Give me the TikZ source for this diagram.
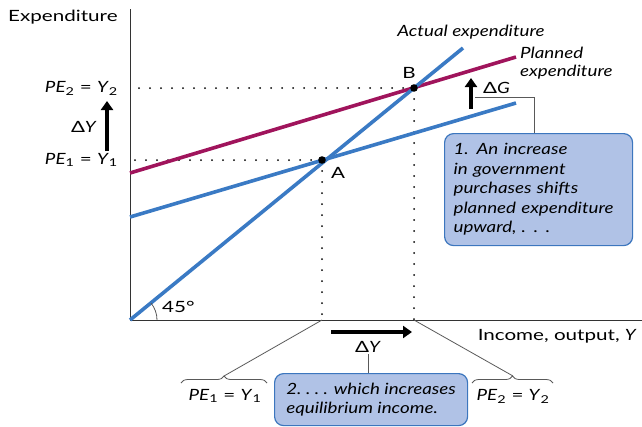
\documentclass[tikz,border=0pt]{standalone}
\usepackage{fontspec}
\setmainfont{Lato}[FakeStretch=1.33, ItalicFeatures={FakeStretch=1.21}]
\usetikzlibrary{positioning,calc,arrows.meta,decorations.pathreplacing}
\definecolor{lineblue}{RGB}{58,122,196}
\definecolor{pemag}{RGB}{160,20,92}
\definecolor{boxfill}{RGB}{176,194,230}
\definecolor{boxedge}{RGB}{60,118,190}
\newcommand{\pelab}[1]{\textit{PE}\textsubscript{#1} = \textit{Y}\textsubscript{#1}}

\begin{document}
\begin{tikzpicture}[
    x=1pt, y=1pt,
    every node/.style={font=\fontsize{15.5}{19}\selectfont, inner sep=1pt},
    curve/.style={line width=3.6pt},
    guide/.style={line width=2pt, dash pattern=on 0pt off 11pt, line cap=round},
    axis/.style={line width=1pt, black!80},
    thin line/.style={line width=0.8pt, black!65},
    bigarrow/.style={line width=4pt, -{Triangle[length=9pt,width=12pt]}},
    notebox/.style={draw=boxedge, line width=1.2pt, fill=boxfill, rounded corners=9pt,
        align=left, font=\fontsize{15.5}{19.5}\selectfont\itshape, inner xsep=9pt, inner ysep=5pt}
]
\useasboundingbox (0,0) rectangle (642,-426);

% Axes
\coordinate (O) at (130,-320);
\draw[axis] (130,-9) -- (O) -- (642,-320);
\node[anchor=west] (ylab) at (7,-17) {Expenditure};
\node[anchor=east] (xlab) at (638,-336) {Income, output, \textit{Y}};

% Equilibrium points
\coordinate (A) at (322,-160);
\coordinate (B) at (414,-88);

% Dotted guides
\draw[guide] (B) -- (B |- O);
\draw[guide] (A) -- (A |- O);
\draw[guide] (B) -- (B -| O);
\draw[guide] (A) -- (A -| O);

% Planned expenditure lines and 45 degree line
\draw[curve, lineblue] (130,-217) -- (516,-103);
\draw[curve, pemag] (130,-173) -- (516,-57);
\draw[curve, lineblue] (O) -- (463,-48);
\fill (A) circle (3.8);
\fill (B) circle (3.8);
\node (Alab) at (338,-173) {A};
\node (Blab) at (409,-73) {B};

% 45 degree mark
\draw[thin line] (157,-320) arc (0:39:27);
\node[anchor=west] (deg) at (161,-307) {45°};

% Line labels
\node (actual) at (471,-32) {\textit{Actual expenditure}};
\node[anchor=west, align=left] (planned) at (519,-63) {\textit{Planned}\\[-1pt]\textit{expenditure}};

% Vertical axis values
\node[anchor=east] (pe2) at (119,-88) {\pelab{2}};
\node[anchor=east] (pe1) at (119,-160) {\pelab{1}};
\node[anchor=east] (dyv) at (98,-127) {Δ\textit{Y}};
\draw[bigarrow] (107,-151) -- (107,-101);

% Shift in government purchases
\draw[bigarrow] (471,-109) -- (471,-78);
\node[anchor=west] (dg) at (482,-88) {Δ\textit{G}};
\node[notebox, anchor=north west, text width=170pt, minimum height=112pt] (note1) at (444,-133)
    {1. An increase\\in government\\purchases shifts\\planned expenditure\\upward, . . .};
\coordinate (k1) at (534,-97);
\draw[thin line] (note1.north -| k1) -- (k1) -- (475,-97);

% Change in income
\draw[bigarrow] (331,-332) -- (412,-332);
\node (dyh) at (368,-347) {Δ\textit{Y}};
\node[notebox, anchor=north west, minimum width=193pt, minimum height=52pt] (note2) at (274,-373)
    {2.\ .\ .\ . which increases\\equilibrium income.};
\draw[thin line] (note2.north -| dyh) -- (dyh.south);

% Braces under the axis
\node (y1) at (225,-396) {\pelab{1}};
\node (y2) at (513,-396) {\pelab{2}};
\draw[thin line, decorate, decoration={brace, amplitude=7pt}] (181,-383) -- (267,-383);
\draw[thin line, decorate, decoration={brace, amplitude=7pt}] (472,-383) -- (553,-383);
\coordinate (t1) at (224,-376);
\coordinate (t2) at (513,-376);
\draw[thin line] (t1) -- (A |- O);
\draw[thin line] (t2) -- (B |- O);

\end{tikzpicture}
\end{document}
